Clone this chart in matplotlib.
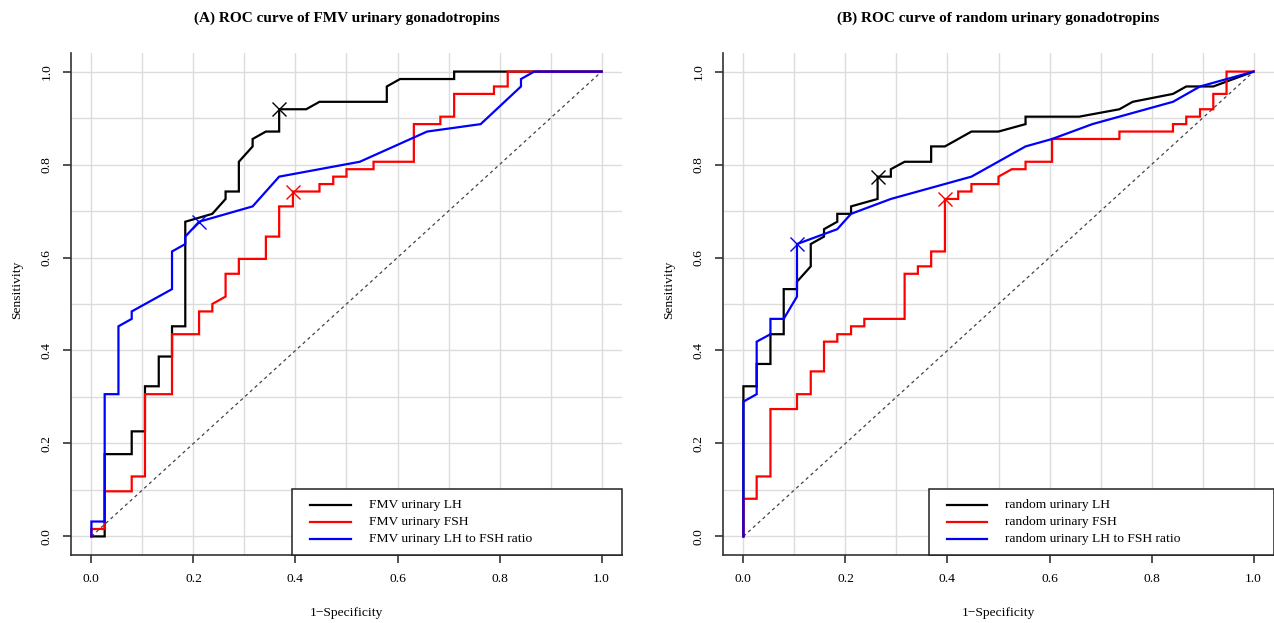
import numpy as np
import matplotlib
matplotlib.use("Agg")
import matplotlib.pyplot as plt
from matplotlib.patches import Rectangle
from matplotlib.lines import Line2D

plt.rcParams['font.family'] = ['Liberation Serif', 'DejaVu Serif']

# ---- ROC curve vertices: (1 - specificity, sensitivity) ----
# Panel A: first-morning-void (FMV) urine
fmv_lh_x = [0, 0.026, 0.026, 0.079, 0.079, 0.105, 0.105, 0.132, 0.132, 0.158, 0.158,
            0.184, 0.184, 0.237, 0.263, 0.263, 0.289, 0.289, 0.316, 0.316, 0.342,
            0.368, 0.368, 0.421, 0.447, 0.579, 0.579, 0.605, 0.711, 0.711, 1.0]
fmv_lh_y = [0, 0, 0.177, 0.177, 0.226, 0.226, 0.323, 0.323, 0.387, 0.387, 0.452,
            0.452, 0.677, 0.694, 0.726, 0.742, 0.742, 0.806, 0.839, 0.855, 0.871,
            0.871, 0.919, 0.919, 0.935, 0.935, 0.968, 0.984, 0.984, 1.0, 1.0]

fmv_fsh_x = [0, 0, 0.026, 0.026, 0.079, 0.079, 0.105, 0.105, 0.158, 0.158, 0.211,
             0.211, 0.237, 0.237, 0.263, 0.263, 0.289, 0.289, 0.342, 0.342, 0.368,
             0.368, 0.395, 0.395, 0.447, 0.447, 0.474, 0.474, 0.5, 0.5, 0.553,
             0.553, 0.632, 0.632, 0.684, 0.684, 0.711, 0.711, 0.789, 0.789, 0.816,
             0.816, 1.0]
fmv_fsh_y = [0, 0.016, 0.016, 0.097, 0.097, 0.129, 0.129, 0.306, 0.306, 0.435, 0.435,
             0.484, 0.484, 0.5, 0.516, 0.565, 0.565, 0.597, 0.597, 0.645, 0.645,
             0.710, 0.710, 0.742, 0.742, 0.758, 0.758, 0.774, 0.774, 0.790, 0.790,
             0.806, 0.806, 0.887, 0.887, 0.903, 0.903, 0.952, 0.952, 0.968, 0.968,
             1.0, 1.0]

fmv_ratio_x = [0, 0, 0.026, 0.026, 0.053, 0.053, 0.079, 0.079, 0.158, 0.158, 0.184,
               0.184, 0.211, 0.316, 0.368, 0.526, 0.658, 0.763, 0.842, 0.842, 0.868, 1.0]
fmv_ratio_y = [0, 0.032, 0.032, 0.306, 0.306, 0.452, 0.468, 0.484, 0.532, 0.613, 0.629,
               0.645, 0.677, 0.710, 0.774, 0.806, 0.871, 0.887, 0.968, 0.984, 1.0, 1.0]

# Panel B: random urine
rnd_lh_x = [0, 0, 0.026, 0.026, 0.053, 0.053, 0.079, 0.079, 0.105, 0.105, 0.132,
            0.132, 0.158, 0.158, 0.184, 0.184, 0.211, 0.211, 0.263, 0.263, 0.289,
            0.289, 0.316, 0.368, 0.368, 0.395, 0.447, 0.5, 0.553, 0.553, 0.658,
            0.737, 0.763, 0.842, 0.868, 0.921, 1.0]
rnd_lh_y = [0, 0.323, 0.323, 0.371, 0.371, 0.435, 0.435, 0.532, 0.532, 0.548, 0.581,
            0.629, 0.645, 0.661, 0.677, 0.694, 0.694, 0.710, 0.726, 0.774, 0.774,
            0.790, 0.806, 0.806, 0.839, 0.839, 0.871, 0.871, 0.887, 0.903, 0.903,
            0.919, 0.935, 0.952, 0.968, 0.968, 1.0]

rnd_fsh_x = [0, 0, 0.026, 0.026, 0.053, 0.053, 0.105, 0.105, 0.132, 0.132, 0.158,
             0.158, 0.184, 0.184, 0.211, 0.211, 0.237, 0.237, 0.316, 0.316, 0.342,
             0.342, 0.368, 0.368, 0.395, 0.395, 0.421, 0.421, 0.447, 0.447, 0.5,
             0.5, 0.526, 0.553, 0.553, 0.605, 0.605, 0.737, 0.737, 0.842, 0.842,
             0.868, 0.868, 0.895, 0.895, 0.921, 0.921, 0.947, 0.947, 1.0]
rnd_fsh_y = [0, 0.081, 0.081, 0.129, 0.129, 0.274, 0.274, 0.306, 0.306, 0.355, 0.355,
             0.419, 0.419, 0.435, 0.435, 0.452, 0.452, 0.468, 0.468, 0.565, 0.565,
             0.581, 0.581, 0.613, 0.613, 0.726, 0.726, 0.742, 0.742, 0.758, 0.758,
             0.774, 0.790, 0.790, 0.806, 0.806, 0.855, 0.855, 0.871, 0.871, 0.887,
             0.887, 0.903, 0.903, 0.919, 0.919, 0.952, 0.952, 1.0, 1.0]

rnd_ratio_x = [0, 0, 0.026, 0.026, 0.053, 0.053, 0.079, 0.105, 0.105, 0.184, 0.211,
               0.289, 0.447, 0.553, 0.605, 0.684, 0.842, 0.895, 1.0]
rnd_ratio_y = [0, 0.290, 0.306, 0.419, 0.435, 0.468, 0.468, 0.516, 0.629, 0.661, 0.694,
               0.726, 0.774, 0.839, 0.855, 0.887, 0.935, 0.968, 1.0]

# Optimal cut-off points (1 - specificity, sensitivity) for LH, FSH, ratio
fmv_best_x = [0.368, 0.395, 0.211]
fmv_best_y = [0.919, 0.742, 0.677]
rnd_best_x = [0.263, 0.395, 0.105]
rnd_best_y = [0.774, 0.726, 0.629]

tick_vals = [0.0, 0.2, 0.4, 0.6, 0.8, 1.0]
tick_labels = ["0.0", "0.2", "0.4", "0.6", "0.8", "1.0"]
colors = ["#000000", "#ff0000", "#0000ff"]

panels = [
    dict(title="(A) ROC curve of FMV urinary gonadotropins",
         curves=[(fmv_lh_x, fmv_lh_y), (fmv_fsh_x, fmv_fsh_y), (fmv_ratio_x, fmv_ratio_y)],
         best=(fmv_best_x, fmv_best_y),
         names=["FMV urinary LH", "FMV urinary FSH", "FMV urinary LH to FSH ratio"],
         rect=[71 / 1274, 1 - 555 / 623, 551 / 1274, 502 / 623],
         leg=(0.4016, 0.4338, 0.5076, 0.5414)),
    dict(title="(B) ROC curve of random urinary gonadotropins",
         curves=[(rnd_lh_x, rnd_lh_y), (rnd_fsh_x, rnd_fsh_y), (rnd_ratio_x, rnd_ratio_y)],
         best=(rnd_best_x, rnd_best_y),
         names=["random urinary LH", "random urinary FSH", "random urinary LH to FSH ratio"],
         rect=[723 / 1274, 1 - 555 / 623, 551 / 1274, 502 / 623],
         leg=(0.3733, 0.4067, 0.4795, 0.5127)),
]

fig = plt.figure(figsize=(12.74, 6.23), dpi=100)
FS = 9.7

for p in panels:
    ax = fig.add_axes(p["rect"])
    ax.set_xlim(-0.04, 1.04)
    ax.set_ylim(-0.04, 1.04)

    # light reference grid every 0.1
    grid_vals = np.round(np.arange(0, 1.0001, 0.1), 1)
    for g in grid_vals:
        ax.axvline(g, color="#dcdcdc", lw=1.0, zorder=0)
        ax.axhline(g, color="#dcdcdc", lw=1.0, zorder=0)

    # chance line
    ax.plot([0, 1], [0, 1], color="#444444", lw=0.9, ls=(0, (2.6, 2.6)), zorder=1)

    for (cx, cy), c in zip(p["curves"], colors):
        ax.plot(cx, cy, color=c, lw=1.6, zorder=2, solid_joinstyle="miter")
    bx, by = p["best"]
    for xx, yy, c in zip(bx, by, colors):
        ax.plot([xx], [yy], marker="x", ms=9.5, mew=1.0, color=c, ls="none", zorder=3)

    for s in ("top", "right"):
        ax.spines[s].set_visible(False)
    for s in ("left", "bottom"):
        ax.spines[s].set_color("#333333")
        ax.spines[s].set_linewidth(1.2)

    ax.set_xticks(tick_vals)
    ax.set_xticklabels(tick_labels, fontsize=FS)
    ax.set_yticks(tick_vals)
    ax.set_yticklabels(tick_labels, fontsize=FS, rotation=90, va="center")
    ax.tick_params(direction="out", length=5.8, width=1.2, color="#333333", pad=7.5)

    ax.set_xlabel("1\u2212Specificity", fontsize=FS)
    ax.xaxis.set_label_coords(0.5, (555 - 613) / 502)
    ax.xaxis.label.set_va("center")
    ax.set_ylabel("Sensitivity", fontsize=FS)
    ax.yaxis.set_label_coords((17 - 71) / 551, 0.528)
    ax.yaxis.label.set_va("center")

    ax.set_title(p["title"], fontsize=11, fontweight="bold", y=(555 - 18) / 502, va="center", pad=0)

    # legend box in the lower-right corner
    bx0, lx0, lx1, tx = p["leg"]
    ax.add_patch(Rectangle((bx0, 0), 1 - bx0, 0.1309, transform=ax.transAxes,
                           facecolor="white", edgecolor="#222222", lw=1.1, zorder=5,
                           clip_on=False))
    for yy, c, name in zip([0.0996, 0.0657, 0.0319], colors, p["names"]):
        ax.add_line(Line2D([lx0, lx1], [yy, yy], transform=ax.transAxes, color=c,
                           lw=1.6, zorder=6, clip_on=False))
        ax.text(tx, yy, name, transform=ax.transAxes, fontsize=FS, va="center",
                ha="left", zorder=6)

fig.savefig("out.png", dpi=100, facecolor="white")
